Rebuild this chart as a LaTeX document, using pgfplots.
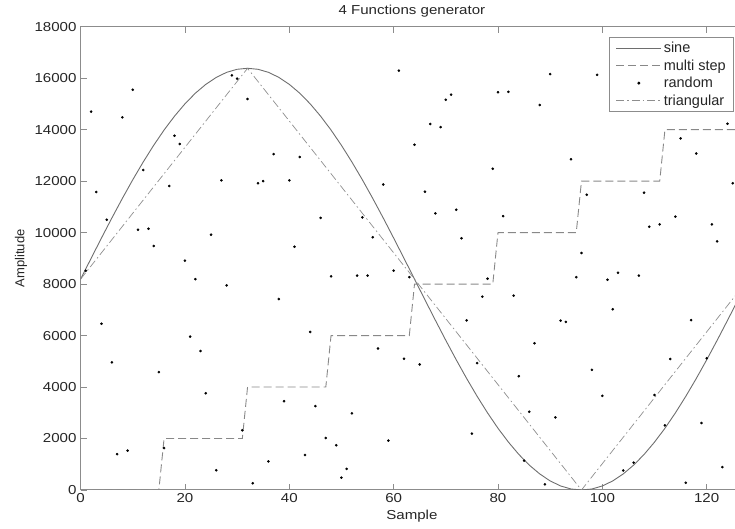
\documentclass[border=0pt]{standalone}
\usepackage{fontspec}
\setmainfont{Liberation Sans}
\usepackage{pgfplots}
\usepackage{pgfplotstable}
\pgfplotsset{compat=1.18}
\usetikzlibrary{calc}
\definecolor{axgray}{HTML}{8C8C8C}
\definecolor{sinegray}{HTML}{6E6E6E}
\definecolor{stepgray}{HTML}{888888}
\definecolor{trigray}{HTML}{8E8E8E}
\definecolor{txt}{HTML}{262626}

% sine, one point every two samples
\pgfplotstableread{
n y
0 8192
2 8995
4 9790
6 10570
8 11327
10 12054
12 12743
14 13389
16 13985
18 14524
20 15003
22 15417
24 15760
26 16031
28 16227
30 16345
32 16384
34 16345
36 16227
38 16031
40 15760
42 15417
44 15003
46 14524
48 13985
50 13389
52 12743
54 12054
56 11327
58 10570
60 9790
62 8995
64 8192
66 7389
68 6594
70 5814
72 5057
74 4330
76 3641
78 2995
80 2399
82 1860
84 1381
86 967
88 624
90 353
92 157
94 39
96 0
98 39
100 157
102 353
104 624
106 967
108 1381
110 1860
112 2399
114 2995
116 3641
118 4330
120 5057
122 5814
124 6594
126 7389
127 7790
}\sinetab

\pgfplotstableread{
n y
0 0
15 0
16 2000
31 2000
32 4000
47 4000
48 6000
63 6000
64 8000
79 8000
80 10000
95 10000
96 12000
111 12000
112 14000
127 14000
}\steptab

\pgfplotstableread{
n y
1 8520
2 14700
3 11580
4 6460
5 10500
6 4960
7 1390
8 14480
9 1530
10 15550
11 10110
12 12430
13 10150
14 9480
15 4580
16 1630
17 11810
18 13760
19 13440
20 8910
21 5960
22 8190
23 5400
24 3760
25 9920
26 770
27 12030
28 7950
29 16110
30 15980
31 2320
32 15190
33 260
34 11920
35 12000
36 1110
37 13050
38 7420
39 3450
40 12030
41 9450
42 12940
43 1360
44 6140
45 3260
46 10570
47 2020
48 8300
49 1740
50 480
51 820
52 2980
53 8330
54 10590
55 8330
56 9820
57 5500
58 11870
59 1920
60 8520
61 16290
62 5100
63 8270
64 13410
65 4880
66 11590
67 14220
68 10750
69 14100
70 15160
71 15360
72 10890
73 9780
74 6590
75 2190
76 4930
77 7510
78 8210
79 12480
80 15450
81 10640
82 15470
83 7550
84 4420
85 1140
86 3040
87 5700
88 14960
89 220
90 16160
91 2820
92 6580
93 6530
94 12850
95 8270
96 9210
97 11470
98 4670
99 16130
100 3660
101 8170
102 7020
103 8440
104 760
106 1060
107 8330
108 11550
109 10230
110 3690
111 10320
112 2510
113 5090
114 10620
115 13660
116 280
117 6600
118 13070
119 2600
120 5120
121 10320
122 9660
123 890
124 14230
125 11920
}\randtab

\pgfplotstableread{
n y
0 8192
32 16384
96 0
127 7936
}\tritab

\begin{document}
\begin{tikzpicture}
\begin{axis}[
    name=ax,
    scale only axis,
    width=662.6pt,
    height=463.3pt,
    xmin=0, xmax=127,
    ymin=0, ymax=18000,
    xtick={0,20,...,120},
    ytick={0,2000,...,18000},
    scaled ticks=false,
    /pgf/number format/assume math mode=true,
    /pgf/number format/set thousands separator={},
    tick align=inside,
    major tick length=6pt,
    axis line style={axgray, line width=1pt},
    every tick/.style={axgray, line width=0.8pt},
    tick label style={font=\fontsize{13}{15}\selectfont, text=txt},
    xticklabel style={xscale=1.16},
    yticklabel style={xscale=1.16},
    title={4 Functions generator},
    title style={font=\fontsize{13}{15}\selectfont, text=txt, xscale=1.16},
    xlabel={Sample},
    ylabel={Amplitude},
    label style={font=\fontsize{13}{15}\selectfont, text=txt},
    xlabel style={xscale=1.16},
    legend cell align=left,
    legend style={at={(1,1)}, anchor=north east, xshift=-9pt, yshift=-10pt,
        draw=axgray, line width=0.8pt, font=\fontsize{14.5}{16}\selectfont,
        text=txt, inner xsep=6pt, inner ysep=3pt, row sep=1.5pt},
    legend image code/.code={%
        \draw[mark repeat=2, mark phase=2, #1]
            plot coordinates {(0pt,0pt) (22.5pt,0pt) (45pt,0pt)};},
]
\addplot[sinegray, line width=0.9pt, no marks] table[x=n, y=y] {\sinetab};
\addplot[stepgray, line width=0.9pt, dash pattern=on 8pt off 4pt, no marks] table[x=n, y=y] {\steptab};
\addplot[only marks, mark=*, mark size=1.1pt, black] table[x=n, y=y] {\randtab};
\addplot[trigray, line width=0.7pt, dash pattern=on 8pt off 3pt on 1.5pt off 3pt, no marks] table[x=n, y=y] {\tritab};
\legend{sine, multi step, random, triangular}
\end{axis}
\pgfresetboundingbox
\path[use as bounding box] ($(ax.south west)+(-80.6pt,-39pt)$) rectangle ($(ax.south west)+(654.4pt,490pt)$);
\end{tikzpicture}
\end{document}
